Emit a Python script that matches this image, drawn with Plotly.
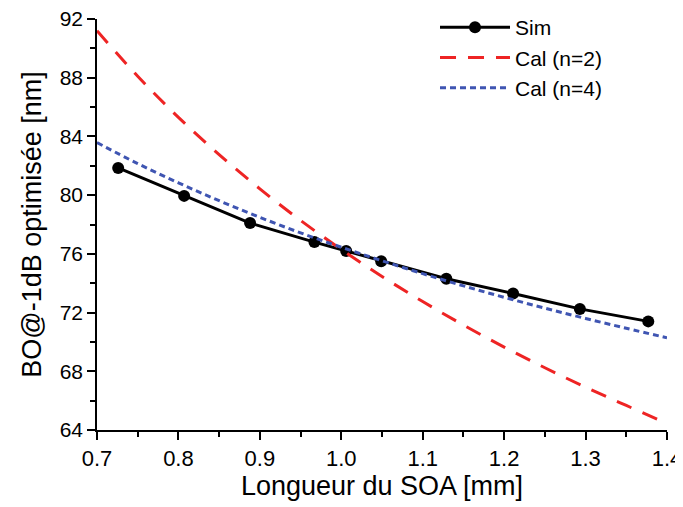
import plotly.graph_objects as go

# Simulated points
sim_x = [0.726, 0.807, 0.888, 0.967, 1.006, 1.049, 1.129, 1.211, 1.293, 1.377]
sim_y = [81.85, 79.95, 78.1, 76.8, 76.2, 75.5, 74.3, 73.3, 72.25, 71.4]

# Calculated curves
cal_x = [0.70, 0.75, 0.80, 0.85, 0.90, 0.95, 1.00, 1.05, 1.10, 1.15, 1.20, 1.25, 1.30, 1.35, 1.40]
cal2_y = [91.2, 88.1, 85.3, 82.76, 80.43, 78.28, 76.3, 74.46, 72.75, 71.15, 69.65, 68.24, 66.92, 65.67, 64.45]
cal4_y = [83.58, 82.15, 80.84, 79.62, 78.49, 77.43, 76.45, 75.53, 74.65, 73.82, 73.04, 72.30, 71.60, 70.93, 70.28]

x_ticks = [0.7, 0.8, 0.9, 1.0, 1.1, 1.2, 1.3, 1.4]
x_labels = ["0.7", "0.8", "0.9", "1.0", "1.1", "1.2", "1.3", "1.4"]
y_ticks = [64, 68, 72, 76, 80, 84, 88, 92]

FONT = "Liberation Sans, Arial, sans-serif"

fig = go.Figure()
fig.add_trace(go.Scatter(x=sim_x, y=sim_y, mode="lines+markers", name="Sim",
                         line=dict(color="black", width=3),
                         marker=dict(color="black", size=12)))
fig.add_trace(go.Scatter(x=cal_x, y=cal2_y, mode="lines", name="Cal (n=2)",
                         line=dict(color="#EE2424", width=3, dash="16px,12px", shape="spline")))
fig.add_trace(go.Scatter(x=cal_x, y=cal4_y, mode="lines", name="Cal (n=4)",
                         line=dict(color="#3F55B2", width=3, dash="6px,4px", shape="spline")))

# page body has an 8px margin, so the figure is sized to fit the 683x507 window
fig.update_layout(
    width=675, height=499,
    margin=dict(l=89, r=16, t=11, b=77, autoexpand=False),
    paper_bgcolor="white", plot_bgcolor="white",
    font=dict(family=FONT, color="black"),
    showlegend=True,
    legend=dict(x=0.593, y=1.029, xanchor="left", yanchor="top",
                font=dict(size=21, family=FONT), bgcolor="rgba(0,0,0,0)",
                tracegroupgap=0, itemwidth=70),
)
fig.update_xaxes(
    range=[0.7, 1.4], tickvals=x_ticks, ticktext=x_labels,
    showline=True, linecolor="black", linewidth=1.5, mirror=False,
    ticks="outside", ticklen=8, tickwidth=1.5, tickcolor="black",
    minor=dict(dtick=0.05, tick0=0.7, ticks="outside", ticklen=5, tickwidth=1.5, tickcolor="black"),
    showgrid=False, zeroline=False, ticklabeloverflow="allow",
    tickfont=dict(size=22, family=FONT),
    title=dict(text="Longueur du SOA [mm]", font=dict(size=27, family=FONT), standoff=6),
)
fig.update_yaxes(
    range=[64, 92], tickvals=y_ticks,
    showline=True, linecolor="black", linewidth=1.5, mirror=False,
    ticks="outside", ticklen=8, tickwidth=1.5, tickcolor="black",
    minor=dict(dtick=2, tick0=64, ticks="outside", ticklen=5, tickwidth=1.5, tickcolor="black"),
    showgrid=False, zeroline=False, ticklabeloverflow="allow",
    tickfont=dict(size=21, family=FONT),
    title=dict(text="BO@-1dB optimisée [nm]", font=dict(size=27, family=FONT), standoff=10),
)

fig.write_html("out.html")
